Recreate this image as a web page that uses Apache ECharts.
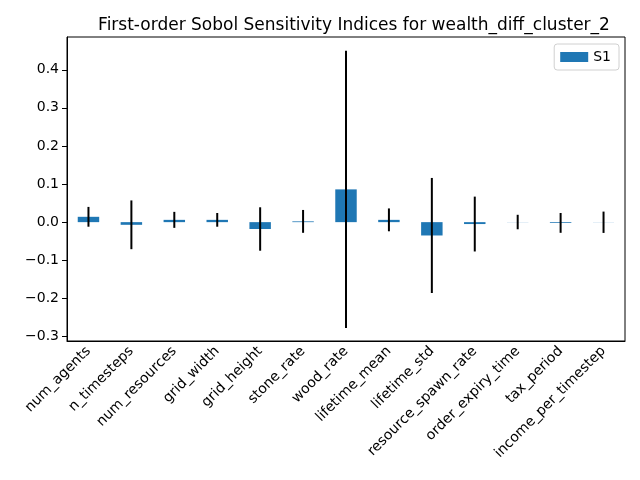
<!DOCTYPE html>
<html lang="en">
	<head>
		<meta charset="UTF-8" />
		<title>Sobol S1</title>
		<script src="https://cdn.jsdelivr.net/npm/echarts@6.0.0/dist/echarts.min.js"></script>
		<style>
			body { margin: 0; }
		</style>
	</head>
	<body>
		<div id="main" style="width: 640px; height: 480px"></div>
		<script type="text/javascript">
			// parameter names on the x axis
			const categories = [
				"num_agents", "n_timesteps", "num_resources", "grid_width", "grid_height",
				"stone_rate", "wood_rate", "lifetime_mean", "lifetime_std",
				"resource_spawn_rate", "order_expiry_time", "tax_period", "income_per_timestep",
			];
			// first-order indices and their confidence half-widths
			const s1 = [0.014, -0.007, 0.006, 0.006, -0.018, 0.002, 0.086, 0.006, -0.035, -0.005, 0.0003, -0.002, -0.0003];
			const s1Conf = [0.026, 0.064, 0.021, 0.018, 0.057, 0.030, 0.364, 0.030, 0.151, 0.072, 0.019, 0.026, 0.028];
			const yTicks = [-0.3, -0.2, -0.1, 0.0, 0.1, 0.2, 0.3, 0.4];

			const font = "DejaVu Sans";
			const errData = categories.map((c, i) => [i, s1[i] - s1Conf[i], s1[i] + s1Conf[i]]);

			let myChart = echarts.init(document.getElementById("main"));
			let options = {
				animation: false,
				title: {
					text: "First-order Sobol Sensitivity Indices for wealth_diff_cluster_2",
					left: 349,
					top: 12,
					textAlign: "center",
					textStyle: { fontFamily: font, fontSize: 17, fontWeight: "normal", color: "#000" },
				},
				legend: {
					data: [{ name: "S1", icon: "rect" }],
					right: 21,
					top: 44,
					itemWidth: 28,
					itemHeight: 10,
					padding: [6, 8, 6, 6],
					itemGap: 8,
					borderColor: "#d0d0d0",
					borderWidth: 1,
					borderRadius: 3,
					textStyle: { fontFamily: font, fontSize: 14, color: "#000" },
				},
				grid: {
					left: 67, right: 15, top: 37, bottom: 139,
					show: true, borderColor: "#000", borderWidth: 1,
				},
				xAxis: {
					type: "category",
					data: categories,
					axisLine: { onZero: false, lineStyle: { color: "#000" } },
					axisTick: { alignWithLabel: true, length: 5, lineStyle: { color: "#000" } },
					axisLabel: {
						interval: 0, rotate: 45, margin: 8,
						fontFamily: font, fontSize: 14, color: "#000",
					},
				},
				yAxis: {
					type: "value",
					min: -0.312,
					max: 0.486,
					splitLine: { show: false },
					axisLine: { show: true, lineStyle: { color: "#000" } },
					axisTick: { show: true, length: 5, customValues: yTicks, lineStyle: { color: "#000" } },
					axisLabel: {
						customValues: yTicks,
						fontFamily: font, fontSize: 14, color: "#000", margin: 8,
						formatter: (v) => v.toFixed(1).replace("-", "\u2212"),
					},
				},
				series: [
					{
						name: "S1",
						type: "bar",
						data: s1,
						barWidth: "50%",
						itemStyle: { color: "#1f77b4", borderRadius: 0 },
					},
					{
						name: "conf",
						type: "custom",
						data: errData,
						encode: { x: 0, y: [1, 2] },
						z: 5,
						renderItem: (params, api) => {
							const lo = api.coord([api.value(0), api.value(1)]);
							const hi = api.coord([api.value(0), api.value(2)]);
							return {
								type: "line",
								shape: { x1: lo[0], y1: lo[1], x2: hi[0], y2: hi[1] },
								style: { stroke: "#000", lineWidth: 2 },
							};
						},
					},
				],
			};
			myChart.setOption(options);
		</script>
	</body>
</html>
